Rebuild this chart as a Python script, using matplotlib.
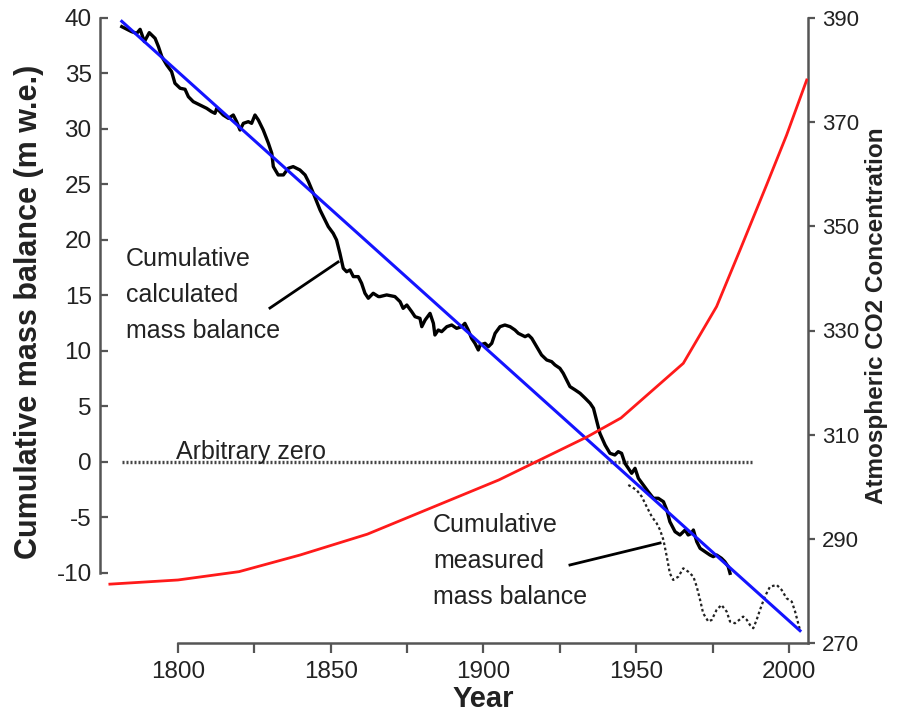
import matplotlib
matplotlib.use("Agg")
import matplotlib.pyplot as plt
from matplotlib.ticker import FixedLocator, NullFormatter

plt.rcParams['font.family'] = ['Liberation Sans', 'DejaVu Sans']

# ---------------- data ----------------
calc_years = [1781.6, 1784.8, 1786.5, 1787.6, 1789.0, 1790.6, 1792.5, 1793.6, 1794.7, 1796.3,
              1797.9, 1799.0, 1800.7, 1802.3, 1803.4, 1805.0, 1807.2, 1809.4, 1811.0, 1812.1,
              1812.7, 1814.8, 1816.5, 1818.1, 1819.2, 1820.3, 1821.4, 1823.0, 1824.1, 1825.2,
              1826.3, 1827.9, 1829.6, 1830.7, 1831.2, 1832.8, 1834.5, 1836.1, 1837.7, 1839.9,
              1841.6, 1842.7, 1844.3, 1845.4, 1846.5, 1848.1, 1849.2, 1850.8, 1851.9, 1853.0,
              1854.1, 1855.2, 1856.3, 1857.4, 1859.0, 1860.1, 1861.2, 1862.3, 1863.9, 1865.6,
              1866.1, 1868.3, 1871.0, 1872.7, 1873.7, 1874.9, 1876.5, 1877.6, 1879.2, 1879.8,
              1880.9, 1882.5, 1883.6, 1884.1, 1885.2, 1886.3, 1888.0, 1889.6, 1891.2, 1892.9,
              1893.9, 1895.0, 1896.1, 1897.2, 1898.3, 1898.9, 1900.5, 1901.6, 1902.7, 1903.8,
              1905.4, 1907.0, 1908.7, 1910.3, 1911.4, 1912.5, 1913.6, 1914.7, 1915.8, 1917.4,
              1919.0, 1920.7, 1922.3, 1923.4, 1925.0, 1926.1, 1927.2, 1928.3, 1930.0, 1931.6,
              1933.3, 1934.9, 1936.0, 1937.0, 1938.1, 1939.8, 1941.4, 1943.0, 1944.1, 1945.2,
              1946.3, 1947.4, 1948.5, 1949.6, 1950.7, 1952.3, 1953.9, 1955.6, 1957.2, 1958.9,
              1960.0, 1961.0, 1962.7, 1964.3, 1966.0, 1967.0, 1968.1, 1968.7, 1969.8, 1970.9,
              1972.5, 1974.1, 1975.2, 1976.3, 1977.9, 1979.0, 1980.1, 1980.7]
calc_values = [39.22, 38.77, 38.62, 38.98, 37.87, 38.68, 38.17, 37.42, 36.52, 35.77,
               35.17, 34.12, 33.67, 33.58, 32.91, 32.46, 32.16, 31.86, 31.56, 31.41,
               31.86, 31.26, 30.96, 31.26, 30.66, 29.91, 30.51, 30.66, 30.51, 31.26,
               30.81, 29.91, 28.71, 27.81, 26.61, 25.86, 25.86, 26.46, 26.61, 26.31,
               25.86, 25.26, 24.21, 23.45, 22.70, 21.80, 21.20, 20.60, 20.00, 18.80,
               17.45, 17.14, 17.30, 16.70, 16.70, 16.10, 15.20, 14.75, 15.20, 14.90,
               14.90, 15.05, 14.90, 14.44, 13.84, 14.14, 13.54, 13.09, 12.94, 12.19,
               12.79, 13.39, 12.49, 11.44, 11.89, 11.74, 12.19, 12.34, 12.04, 12.19,
               12.49, 11.89, 11.14, 10.69, 10.09, 10.54, 10.69, 10.39, 10.69, 11.59,
               12.19, 12.34, 12.19, 11.89, 11.59, 11.44, 11.29, 11.44, 11.14, 10.39,
               9.64, 9.19, 9.04, 8.74, 8.44, 7.99, 7.39, 6.79, 6.49, 6.19,
               5.74, 5.29, 4.84, 3.78, 2.58, 1.53, 0.78, 0.63, 0.93, 0.78,
               -0.12, -0.57, -1.02, -0.57, -1.47, -2.07, -2.67, -3.27, -3.27, -3.58,
               -4.32, -5.38, -6.28, -6.58, -6.13, -6.58, -6.43, -6.13, -7.18, -7.78,
               -8.08, -8.38, -8.53, -8.38, -8.68, -8.98, -9.43, -10.03]

meas_years = [1947.4, 1950.1, 1951.8, 1953.4, 1955.1, 1956.7, 1957.8, 1958.9, 1960.0, 1961.0,
              1962.1, 1963.8, 1965.4, 1967.0, 1968.7, 1969.8, 1970.9, 1971.9, 1973.6, 1974.7,
              1976.3, 1977.9, 1979.6, 1980.7, 1982.3, 1984.0, 1985.0, 1986.2, 1987.2, 1988.3,
              1989.4, 1990.5, 1992.1, 1993.8, 1996.0, 1997.6, 1999.2, 2000.9, 2002.0, 2003.0,
              2003.6]
meas_values = [-2.07, -2.52, -3.12, -4.02, -4.93, -5.53, -6.13, -7.03, -8.53, -10.03,
               -10.63, -10.33, -9.58, -9.88, -10.33, -11.23, -12.43, -13.63, -14.38, -14.23,
               -13.33, -12.88, -13.48, -14.38, -14.53, -14.17, -13.93, -14.23, -14.68, -14.98,
               -14.23, -13.33, -12.13, -11.23, -11.08, -11.53, -12.28, -12.58, -13.48, -14.53,
               -15.14]

trend_years = [1781.6, 2003.6]
trend_values = [39.7, -15.2]

co2_years = [1777.7, 1800.0, 1820.0, 1840.0, 1862.0, 1905.0, 1934.0, 1945.0, 1965.4,
             1976.3, 1984.0, 1992.7, 1999.2, 2005.8]
co2_values = [281.3, 282.1, 283.7, 286.9, 290.9, 301.3, 309.6, 313.2, 323.7,
              334.6, 345.5, 358.0, 367.5, 378.1]

zero_years = [1781.6, 1988.1]
zero_values = [0, 0]

x_major = [1800, 1850, 1900, 1950, 2000]
x_minor = [1825, 1875, 1925, 1975]
y_left_ticks = [-10, -5, 0, 5, 10, 15, 20, 25, 30, 35, 40]
y_right_ticks = [270, 290, 310, 330, 350, 370, 390]

# ---------------- figure ----------------
W, H = 908, 712
fig = plt.figure(figsize=(W / 100, H / 100), dpi=100)
L, R, T, B = 100, 808, 18, 643
ax = fig.add_axes([L / W, (H - B) / H, (R - L) / W, (B - T) / H])
ax2 = ax.twinx()

spine_col = '#555555'
txt_col = '#222222'

ax.set_xlim(1774.47, 2006.22)
ax.set_ylim(-16.31, 40)
ax2.set_ylim(270, 390)

# lines
ax.plot(zero_years, zero_values, color='#444444', lw=2.4, ls=(0, (0.6, 0.6)), zorder=2)
ax.plot(meas_years, meas_values, color='#222222', lw=1.6, ls=(0, (1.2, 1.2)), zorder=3)
ax.plot(calc_years, calc_values, color='black', lw=2.4, zorder=4,
        solid_joinstyle='round')
ax.plot(trend_years, trend_values, color='#1414ff', lw=2.2, zorder=5)
ax2.plot(co2_years, co2_values, color='#ff1a1a', lw=2.0, zorder=5)

# annotations
ax.text(1783.0, 15.05, "Cumulative\ncalculated\nmass balance", fontsize=18,
        color=txt_col, ha='left', va='center', linespacing=1.62)
ax.plot([1830.1, 1852.4], [13.87, 18.02], color='black', lw=2.0)
ax.text(1883.5, -8.9, "Cumulative\nmeasured\nmass balance", fontsize=18,
        color=txt_col, ha='left', va='center', linespacing=1.62)
ax.plot([1928.3, 1957.8], [-9.28, -7.30], color='black', lw=2.0)
ax.text(1799.3, 0.25, "Arbitrary zero", fontsize=18, color=txt_col,
        ha='left', va='baseline')

# spines
for s in ['top', 'right']:
    ax.spines[s].set_visible(False)
for s in ['top', 'left', 'bottom']:
    ax2.spines[s].set_visible(False)
ax.spines['left'].set_bounds(-10, 40)
ax.spines['bottom'].set_bounds(1800, 2006.22)
for sp in [ax.spines['left'], ax.spines['bottom'], ax2.spines['right']]:
    sp.set_color(spine_col)
    sp.set_linewidth(1.8)

# ticks
ax.xaxis.set_major_locator(FixedLocator(x_major))
ax.xaxis.set_minor_locator(FixedLocator(x_minor))
ax.xaxis.set_minor_formatter(NullFormatter())
ax.set_xticklabels([str(v) for v in x_major])
ax.tick_params(axis='x', which='both', direction='out', length=7, width=1.6,
               color=spine_col, labelsize=17.5, labelcolor=txt_col, pad=6)
ax.set_yticks(y_left_ticks)
ax.set_yticklabels([str(v) for v in y_left_ticks])
ax.tick_params(axis='y', direction='in', length=6, width=1.6, color=spine_col,
               labelsize=17.5, labelcolor=txt_col, pad=6)
ax2.set_yticks(y_right_ticks)
ax2.set_yticklabels([str(v) for v in y_right_ticks])
ax2.tick_params(axis='y', direction='out', length=5, width=1.6, color=spine_col,
                labelsize=16, labelcolor=txt_col, pad=5)

# axis titles
fig.text(29 / W, 1 - 312 / H, "Cumulative mass balance (m w.e.)", rotation=90,
         ha='center', va='center', fontsize=22, fontweight='bold', color=txt_col)
fig.text(483 / W, 1 - 707 / H, "Year", ha='center', va='baseline', fontsize=21,
         fontweight='bold', color=txt_col)
fig.text(876 / W, 1 - 316 / H, "Atmospheric CO2 Concentration", rotation=90,
         ha='center', va='center', fontsize=17.5, fontweight='bold', color=txt_col)

fig.savefig("out.png", dpi=100)
